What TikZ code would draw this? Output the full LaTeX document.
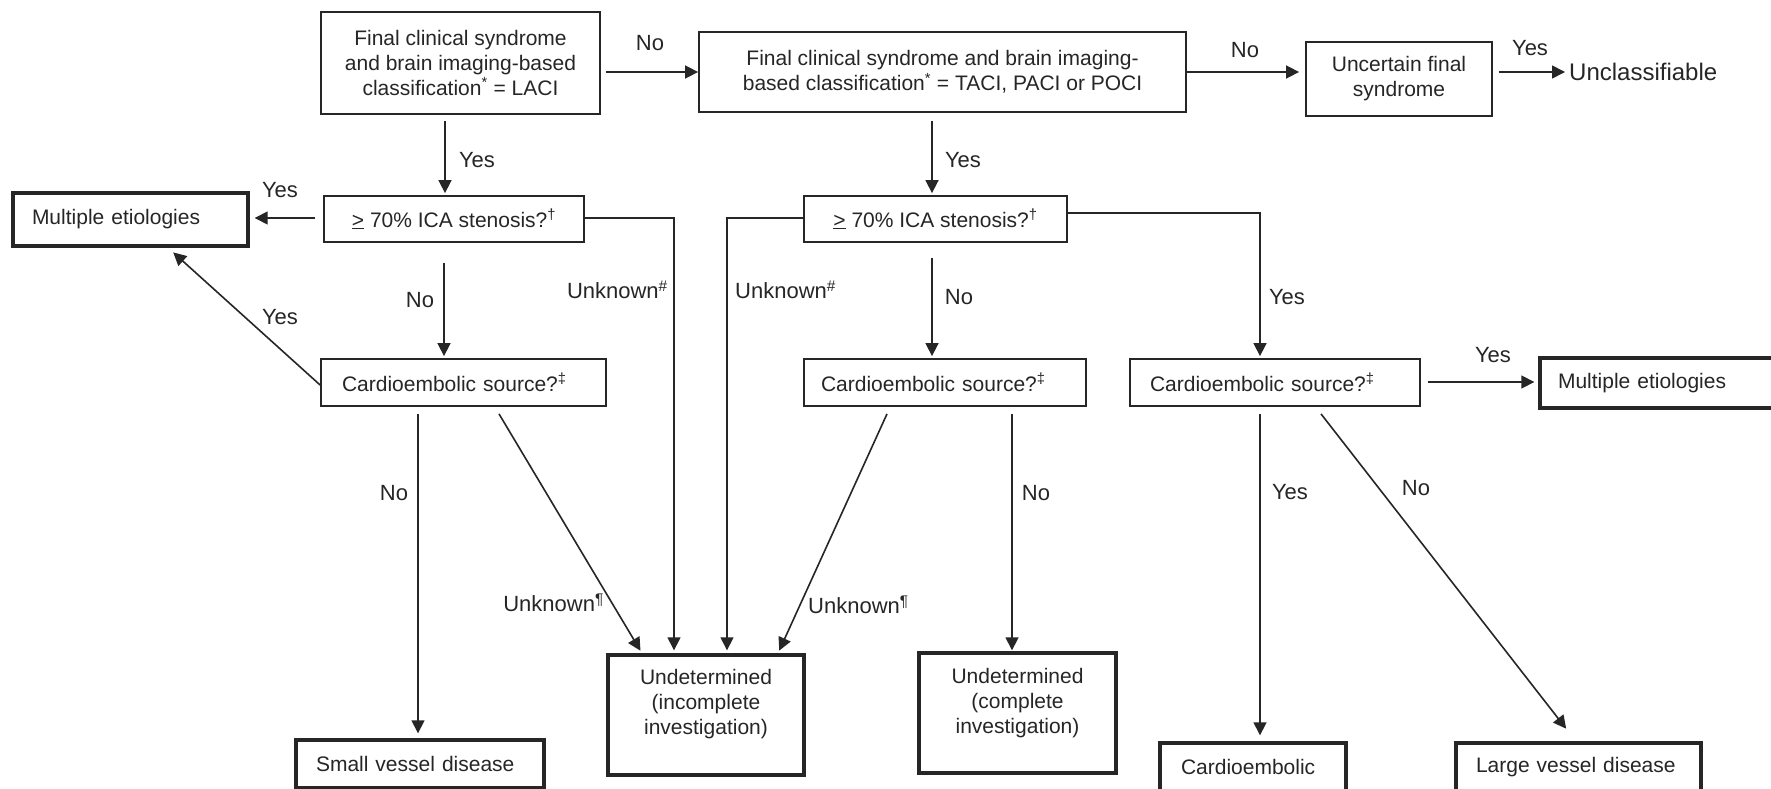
\documentclass[tikz,border=0pt]{standalone}
\usepackage{fontspec}
\setmainfont{Liberation Sans}
\usetikzlibrary{arrows.meta,calc}
\definecolor{ink}{HTML}{262626}
\newcommand\bxfont{\fontsize{21}{25}\selectfont}
\newcommand\lbfont{\fontsize{22}{26}\selectfont}
\newcommand\bgfont{\fontsize{24}{28}\selectfont}
\begin{document}
\begin{tikzpicture}[x=1pt,y=-1pt,
  box/.style={draw=ink, line width=1.8pt, inner sep=0pt, align=center, font=\bxfont, text=ink},
  tbox/.style={box, line width=3.4pt},
  lft/.style={align=left, inner xsep=#1},
  txt/.style={inner sep=0pt, align=center, font=\bxfont, text=ink},
  arr/.style={draw=ink, line width=1.6pt, -{Triangle[length=13pt,width=13pt]}},
  lbl/.style={font=\lbfont, text=ink, inner sep=0pt}]
\useasboundingbox (0,0) rectangle (1771,789);
\fill[white] (0,0) rectangle (1771,789);
% boxes
\node[box, minimum width=279pt, minimum height=102pt] (A) at (460.5,63) {Final clinical syndrome\\and brain imaging-based\\classification\textsuperscript{*} = LACI};
\node[box, minimum width=487pt, minimum height=80pt] (B) at (942.5,72) {Final clinical syndrome and brain imaging-\\based classification\textsuperscript{*} = TACI, PACI or POCI};
\node[box, minimum width=186pt, minimum height=74pt] (C) at (1399,79) {Uncertain final\\syndrome};
\node[lbl, font=\bgfont, anchor=west] (uncl) at (1569,72) {Unclassifiable};
\node[box, minimum width=260pt, minimum height=46pt] (ica1) at (454,219) {\underline{>} 70\% ICA stenosis?\textsuperscript{†}};
\node[box, minimum width=263pt, minimum height=46pt] (ica2) at (935.5,219) {\underline{>} 70\% ICA stenosis?\textsuperscript{†}};
\node[tbox, lft=19pt, text width=197pt, minimum height=53pt] (me1) at (130.5,219.5) {Multiple etiologies};
\node[box, lft=21pt, text width=243pt, minimum height=47pt] (ce1) at (463.5,382.5) {Cardioembolic source?\textsuperscript{‡}};
\node[box, lft=17pt, text width=248pt, minimum height=47pt] (ce2) at (945,382.5) {Cardioembolic source?\textsuperscript{‡}};
\node[box, lft=20pt, text width=250pt, minimum height=47pt] (ce3) at (1275,382.5) {Cardioembolic source?\textsuperscript{‡}};
\node[tbox, lft=18pt, text width=224pt, minimum height=50pt] (me2) at (1670,383) {Multiple etiologies};
\node[tbox, minimum width=196pt, minimum height=120pt] (u1) at (706,715) {};
\node[txt] (u1t) at (706,704) {Undetermined\\(incomplete\\investigation)};
\node[tbox, minimum width=197pt, minimum height=120pt] (u2) at (1017.5,713) {};
\node[txt] (u2t) at (1017.5,703) {Undetermined\\(complete\\investigation)};
\node[tbox, lft=20pt, text width=208pt, minimum height=48pt] (svd) at (420,764) {Small vessel disease};
\node[tbox, lft=21pt, text width=144pt, minimum height=48pt] (cemb) at (1253,767) {Cardioembolic};
\node[tbox, lft=20pt, text width=205pt, minimum height=48pt] (lvd) at (1578.5,767) {Large vessel disease};
% connectors
\draw[arr, shorten <=5pt] (A.east |- B.west) -- (B.west);
\draw[arr, shorten >=6pt] (B.east) -- (B.east -| C.west);
\draw[arr, shorten <=6pt, shorten >=4pt] (C.east |- uncl.west) -- (uncl.west);
\draw[arr, shorten <=6pt, shorten >=2pt] ([xshift=-15.5pt]A.south) -- ([xshift=-15.5pt]A.south |- ica1.north);
\draw[arr, shorten <=8pt, shorten >=2pt] ([xshift=-10.5pt]B.south) -- ([xshift=-10.5pt]B.south |- ica2.north);
\draw[arr, shorten <=8pt, shorten >=5pt] ([yshift=1pt]ica1.west) -- ([yshift=1pt]ica1.west -| me1.east);
\draw[arr, shorten >=3pt] ([yshift=1pt]ica1.east) -| ([xshift=-32pt]u1.north);
\draw[arr, shorten >=3pt] ([yshift=1pt]ica2.west) -| ([xshift=21pt]u1.north);
\draw[arr, shorten <=20pt, shorten >=2pt] ([xshift=-10pt]ica1.south) -- ([xshift=-10pt]ica1.south |- ce1.north);
\draw[arr, shorten <=15pt, shorten >=2pt] ([xshift=-3.5pt]ica2.south) -- ([xshift=-3.5pt]ica2.south |- ce2.north);
\draw[arr, shorten >=2pt] ([yshift=6pt]ica2.east) -| ([xshift=-15pt]ce3.north);
\draw[arr, shorten >=7pt] ([yshift=-2.5pt]ce1.west) -- ([xshift=37.5pt]me1.south);
\draw[arr, shorten >=5pt] ([xshift=-45.5pt,yshift=-7pt]ce1.south) -- ([xshift=-45.5pt]ce1.south |- svd.north);
\draw[arr, shorten >=3pt] ([xshift=35.5pt,yshift=-7pt]ce1.south) -- ([xshift=-64pt]u1.north);
\draw[arr, shorten >=3pt] ([xshift=-58pt,yshift=-7pt]ce2.south) -- ([xshift=72pt]u1.north);
\draw[arr, shorten >=1pt] ([xshift=67pt,yshift=-7pt]ce2.south) -- ([xshift=67pt]ce2.south |- u2.north);
\draw[arr, shorten <=7pt, shorten >=4pt] ([yshift=0.5pt]ce3.east) -- ([yshift=0.5pt]ce3.east -| me2.west);
\draw[arr, shorten >=6pt] ([xshift=-15pt,yshift=-7pt]ce3.south) -- ([xshift=-15pt]ce3.south |- cemb.north);
\draw[arr, shorten >=16pt] ([xshift=46pt,yshift=-7pt]ce3.south) -- ([xshift=-2.5pt]lvd.north);
% labels
\node[lbl] (l1) at (650,43) {No};
\node[lbl] (l2) at (1245,50) {No};
\node[lbl] (l3) at (1530,48) {Yes};
\node[lbl] (l4) at (477,160) {Yes};
\node[lbl] (l5) at (963,160) {Yes};
\node[lbl] (l6) at (280,190) {Yes};
\node[lbl, anchor=east] (l7) at (668,290) {Unknown\textsuperscript{\#}};
\node[lbl, anchor=west] (l8) at (735,290) {Unknown\textsuperscript{\#}};
\node[lbl] (l9) at (420,300) {No};
\node[lbl] (l10) at (959,297) {No};
\node[lbl] (l11) at (1287,297) {Yes};
\node[lbl] (l12) at (280,317) {Yes};
\node[lbl] (l13) at (394,493) {No};
\node[lbl, anchor=east] (l14) at (604,603) {Unknown\textsuperscript{¶}};
\node[lbl, anchor=west] (l15) at (808,605) {Unknown\textsuperscript{¶}};
\node[lbl] (l16) at (1036,493) {No};
\node[lbl] (l17) at (1493,355) {Yes};
\node[lbl] (l18) at (1290,492) {Yes};
\node[lbl] (l19) at (1416,488) {No};
\end{tikzpicture}
\end{document}
